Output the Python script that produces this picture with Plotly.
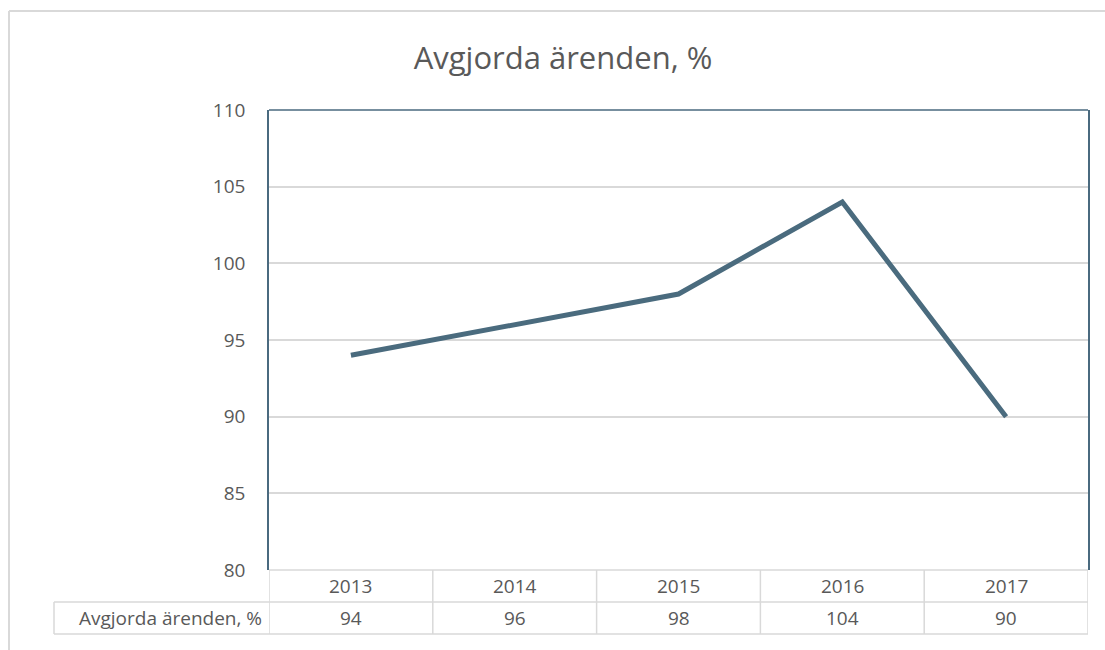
import plotly.graph_objects as go

years = ["2013", "2014", "2015", "2016", "2017"]
values = [94, 96, 98, 104, 90]
series_name = "Avgjorda ärenden, %"
title_text = "Avgjorda ärenden, %"
y_ticks = [80, 85, 90, 95, 100, 105, 110]

W, H = 1105, 650
L, R, T, B = 269, 1088, 110, 570
pw, ph = R - L, B - T

def px_x(p):
    return (p - L) / pw

def px_y(p):
    return (B - p) / ph

FONT = "Open Sans, Noto Sans, sans-serif"
TXT = "#595959"
GRID = "#d9d9d9"
FRAME = "#4a6a7f"
LINE = "#4a6b7e"
SMALL = 19

fig = go.Figure()
fig.add_trace(go.Scatter(
    x=list(range(len(years))), y=values, mode="lines",
    line=dict(color=LINE, width=5), name=series_name, showlegend=False,
    hoverinfo="skip",
))

shapes = []
shapes.append(dict(type="line", xref="paper", yref="paper", x0=0, x1=1, y0=1, y1=1,
                   line=dict(color=FRAME, width=1.5), layer="above"))
row1 = px_y(602)
row2 = px_y(634)
shapes.append(dict(type="line", xref="paper", yref="paper", x0=0, x1=1, y0=0, y1=0,
                   line=dict(color=GRID, width=1.5)))
shapes.append(dict(type="line", xref="paper", yref="paper", x0=px_x(54), x1=1, y0=row1, y1=row1,
                   line=dict(color=GRID, width=1.5)))
shapes.append(dict(type="line", xref="paper", yref="paper", x0=px_x(54), x1=1, y0=row2, y1=row2,
                   line=dict(color=GRID, width=1.5)))
for i in range(len(years) + 1):
    shapes.append(dict(type="line", xref="x", yref="paper", x0=i - 0.5, x1=i - 0.5, y0=0, y1=row2,
                       line=dict(color=GRID, width=1.5)))
shapes.append(dict(type="line", xref="paper", yref="paper", x0=px_x(54), x1=px_x(54), y0=row1, y1=row2,
                   line=dict(color=GRID, width=1.5)))
shapes.append(dict(type="line", xref="paper", yref="paper", x0=px_x(9), x1=px_x(1120), y0=px_y(11), y1=px_y(11),
                   line=dict(color=GRID, width=2)))
shapes.append(dict(type="line", xref="paper", yref="paper", x0=px_x(9), x1=px_x(9), y0=px_y(11), y1=px_y(660),
                   line=dict(color=GRID, width=2)))

annotations = []
for i, (yr, v) in enumerate(zip(years, values)):
    annotations.append(dict(x=i, y=px_y(586), xref="x", yref="paper", text=yr, showarrow=False,
                            xanchor="center", yanchor="middle", font=dict(family=FONT, size=SMALL, color=TXT)))
    annotations.append(dict(x=i, y=px_y(618), xref="x", yref="paper", text=str(v), showarrow=False,
                            xanchor="center", yanchor="middle", font=dict(family=FONT, size=SMALL, color=TXT)))
annotations.append(dict(x=px_x(264), y=px_y(618), xref="paper", yref="paper", text=series_name,
                        showarrow=False, xanchor="right", yanchor="middle",
                        font=dict(family=FONT, size=SMALL, color=TXT)))

fig.update_layout(
    width=W, height=H, autosize=False,
    margin=dict(l=L, r=W - R, t=T, b=H - B, pad=0),
    paper_bgcolor="white", plot_bgcolor="white",
    title=dict(text=title_text, xref="container", yref="container", x=563 / W, y=1 - 58 / H,
               xanchor="center", yanchor="middle", font=dict(family=FONT, size=31, color=TXT)),
    xaxis=dict(range=[-0.5, len(years) - 0.5], showgrid=False, showticklabels=False, zeroline=False,
               showline=False, ticks="", fixedrange=True),
    yaxis=dict(range=[80, 110], tickvals=y_ticks, showgrid=True, gridcolor=GRID, gridwidth=1.5,
               zeroline=False, showline=True, linecolor=FRAME, linewidth=1.5, mirror=True,
               ticks="outside", ticklen=0, ticklabelstandoff=18,
               tickfont=dict(family=FONT, size=SMALL, color=TXT), fixedrange=True),
    shapes=shapes, annotations=annotations, showlegend=False,
)

fig.write_html("out.html", config={"displayModeBar": False},
               post_script="document.body.style.margin='0';")
